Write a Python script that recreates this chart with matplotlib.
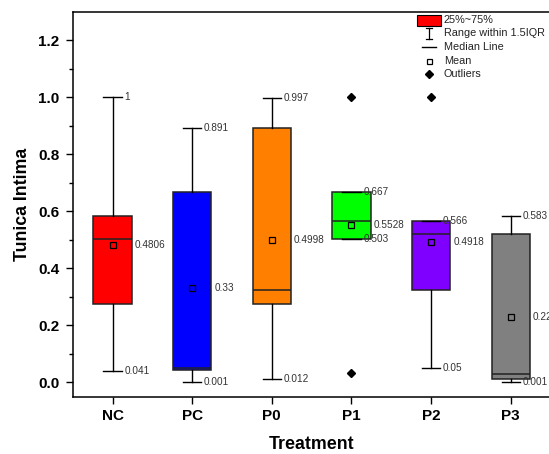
import matplotlib
matplotlib.use('Agg')
import matplotlib.pyplot as plt
from matplotlib.patches import Rectangle
from matplotlib.lines import Line2D

plt.rcParams['font.family'] = 'Liberation Sans'

# Dados
grupos = ['NC', 'PC', 'P0', 'P1', 'P2', 'P3']
q1 = [0.276, 0.042, 0.276, 0.503, 0.323, 0.013]
q3 = [0.584, 0.667, 0.891, 0.667, 0.566, 0.520]
mediana = [0.503, 0.052, 0.323, 0.566, 0.519, 0.031]
media = [0.4806, 0.33, 0.4998, 0.5528, 0.4918, 0.2296]
whis_min = [0.041, 0.001, 0.012, 0.503, 0.05, 0.001]
whis_max = [1.0, 0.891, 0.997, 0.667, 0.566, 0.583]
outliers = [[], [], [], [1.0, 0.033], [1.0], []]
rot_min = ['0.041', '0.001', '0.012', '0.503', '0.05', '0.001']
rot_max = ['1', '0.891', '0.997', '0.667', '0.566', '0.583']
rot_media = ['0.4806', '0.33', '0.4998', '0.5528', '0.4918', '0.2296']
cores = ['#FF0000', '#0000FF', '#FF8000', '#00FF00', '#8000FF', '#808080']

W, H = 549, 454
fig = plt.figure(figsize=(W / 100, H / 100), dpi=100)
ax = fig.add_axes([72.7 / W, 1 - 396.7 / H, (550.5 - 72.7) / W, (396.7 - 11.7) / H])

stats = []
for i, g in enumerate(grupos):
    stats.append({'label': g, 'q1': q1[i], 'q3': q3[i], 'med': mediana[i],
                  'mean': media[i], 'whislo': whis_min[i], 'whishi': whis_max[i],
                  'fliers': outliers[i]})

pos = list(range(1, len(grupos) + 1))
bp = ax.bxp(stats, positions=pos, widths=0.48, capwidths=0.23,
            showmeans=True, patch_artist=True,
            boxprops=dict(edgecolor='#222222', linewidth=1.1),
            medianprops=dict(color='#222222', linewidth=1.1),
            whiskerprops=dict(color='black', linewidth=1.0),
            capprops=dict(color='black', linewidth=1.0),
            meanprops=dict(marker='s', markersize=4, markerfacecolor='none',
                           markeredgecolor='black', markeredgewidth=0.9),
            flierprops=dict(marker='D', markersize=4, markerfacecolor='black',
                            markeredgecolor='black'))
for patch, c in zip(bp['boxes'], cores):
    patch.set_facecolor(c)

# Rótulos de valores
for i, p in enumerate(pos):
    ax.text(p + 0.15, whis_max[i], rot_max[i], fontsize=7.2, color='#333333',
            va='center', ha='left')
    ax.text(p + 0.15, whis_min[i], rot_min[i], fontsize=7.2, color='#333333',
            va='center', ha='left')
    ax.text(p + 0.28, media[i], rot_media[i], fontsize=7.2, color='#333333',
            va='center', ha='left')

ax.set_xlim(0.5, 6.5)
ax.set_ylim(-0.05, 1.3)
ax.set_xticks(pos)
ax.set_xticklabels(grupos)
ax.set_yticks([0.0, 0.2, 0.4, 0.6, 0.8, 1.0, 1.2])
ax.set_yticks([0.1, 0.3, 0.5, 0.7, 0.9, 1.1], minor=True)
ax.tick_params(axis='both', which='major', length=5, width=1, labelsize=11)
ax.tick_params(axis='y', which='minor', length=3, width=1)
ax.tick_params(axis='y', pad=4.5)
for lbl in ax.get_xticklabels() + ax.get_yticklabels():
    lbl.set_fontweight('bold')
for s in ax.spines.values():
    s.set_linewidth(1.1)

ax.set_xlabel('Treatment', fontsize=12.8, fontweight='bold', labelpad=10)
ax.set_ylabel('Tunica Intima', fontsize=12.8, fontweight='bold', labelpad=5)

# Legenda manual (estilo Origin)
def fx(x):
    return x / W

def fy(y):
    return 1 - y / H

tf = fig.transFigure
fig.add_artist(Rectangle((fx(416.7), fy(26)), fx(24), 11.3 / H, transform=tf,
                         facecolor='#FF0000', edgecolor='black', linewidth=0.8))
mx = 429
fig.add_artist(Line2D([fx(mx), fx(mx)], [fy(27.5), fy(39)], transform=tf, color='black', lw=0.9))
fig.add_artist(Line2D([fx(mx - 3), fx(mx + 3)], [fy(27.5), fy(27.5)], transform=tf, color='black', lw=0.9))
fig.add_artist(Line2D([fx(mx - 3), fx(mx + 3)], [fy(39), fy(39)], transform=tf, color='black', lw=0.9))
fig.add_artist(Line2D([fx(422), fx(436)], [fy(47.3), fy(47.3)], transform=tf, color='black', lw=1.0))
fig.add_artist(Line2D([fx(mx)], [fy(60.7)], transform=tf, marker='s', markersize=3.6,
                      markerfacecolor='none', markeredgecolor='black', markeredgewidth=0.9))
fig.add_artist(Line2D([fx(mx)], [fy(74)], transform=tf, marker='D', markersize=4,
                      color='black'))
leg_textos = ['25%~75%', 'Range within 1.5IQR', 'Median Line', 'Mean', 'Outliers']
leg_y = [20, 33.3, 47.3, 60.7, 74]
for t, y in zip(leg_textos, leg_y):
    fig.text(fx(444), fy(y), t, fontsize=7.8, va='center', ha='left', color='#222222')

plt.savefig('out.png', dpi=100)
